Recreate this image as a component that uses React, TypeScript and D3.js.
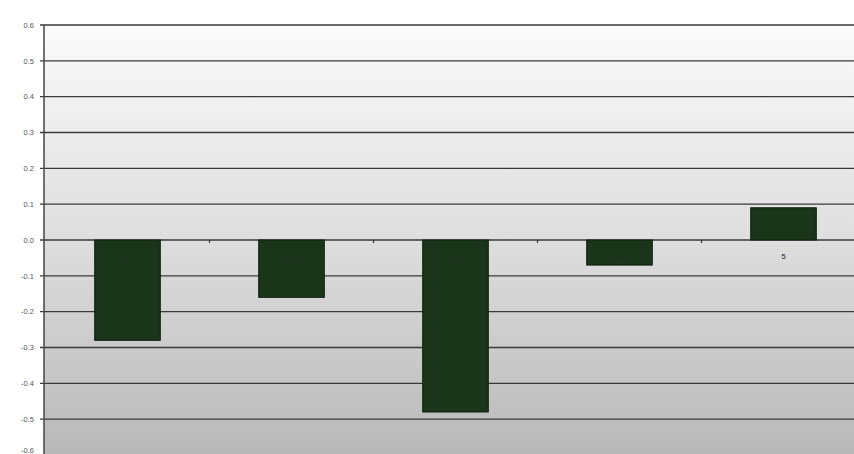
import React from "react";
import * as d3 from "d3";

const categories = ["1", "2", "3", "4", "5"];
const values = [-0.28, -0.16, -0.48, -0.07, 0.09];
const yTicks = [0.6, 0.5, 0.4, 0.3, 0.2, 0.1, 0.0, -0.1, -0.2, -0.3, -0.4, -0.5, -0.6];

export default function App() {
  const W = 854, H = 454;
  const left = 44, top = 25, bottom = 455;
  const y = d3.scaleLinear().domain([-0.6, 0.6]).range([bottom, top]);
  const x = d3.scaleBand().domain(categories).range([45.5, 865.5]).paddingInner(0.6).paddingOuter(0.3);
  const band = d3.scaleBand().domain(categories).range([45.5, 865.5]);
  const y0 = y(0);
  const fmt = (t: number) => d3.format(".1f")(t).replace("\u2212", "-");
  return (
    <svg width={W} height={H} style={{ position: "absolute", left: 0, top: 0, background: "#fff" }}
      fontFamily="Liberation Sans, Arial, sans-serif">
      <defs>
        <linearGradient id="bg" x1="0" y1="0" x2="0" y2="1">
          <stop offset="0" stopColor="#fbfbfb" />
          <stop offset="0.5" stopColor="#dedede" />
          <stop offset="1" stopColor="#b8b8b8" />
        </linearGradient>
      </defs>
      <rect x={left} y={top} width={W - left} height={bottom - top} fill="url(#bg)" />
      {yTicks.map((t) => (
        <g key={t}>
          <line x1={left - 4} x2={W} y1={y(t)} y2={y(t)} stroke="#3a3a3a" strokeWidth={1.4} />
          <text x={34} y={Math.min(y(t) + 2.8, H - 1)} textAnchor="end" fontSize={7.5} fill="#555">
            {fmt(t)}
          </text>
        </g>
      ))}
      {categories.slice(1).map((c) => (
        <line key={c} x1={band(c)!} x2={band(c)!} y1={y0} y2={y0 + 3} stroke="#333" strokeWidth={1.2} />
      ))}
      {categories.map((c, i) => {
        const v = values[i];
        return (
          <rect key={c} x={x(c)!} width={x.bandwidth()} y={Math.min(y(v), y0)} height={Math.abs(y(v) - y0)}
            fill="#1a351a" stroke="#0f1f0e" strokeWidth={1} />
        );
      })}
      {categories.map((c) => (
        <text key={"l" + c} x={band(c)! + band.bandwidth() / 2} y={y0 + 19} textAnchor="middle" fontSize={7.5} fill="#222">
          {c}
        </text>
      ))}
      <line x1={left} x2={left} y1={top} y2={H} stroke="#444" strokeWidth={1.5} />
    </svg>
  );
}
